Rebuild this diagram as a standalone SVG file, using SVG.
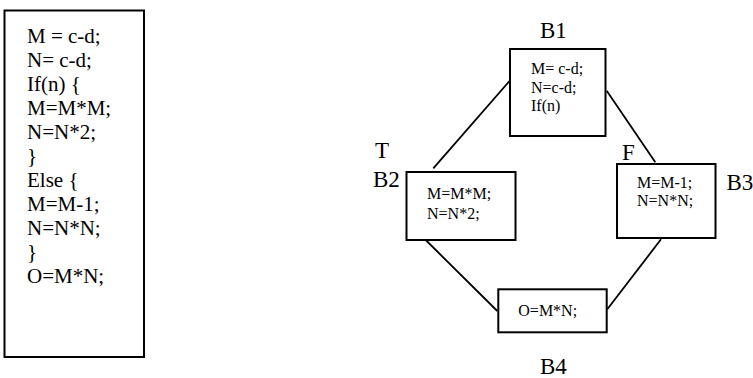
<svg xmlns="http://www.w3.org/2000/svg" width="753" height="378" viewBox="0 0 753 378" font-family="Liberation Serif, Times New Roman, Times, DejaVu Serif, serif">
<style>
.box{fill:#fff;stroke:#000;stroke-width:2}
.edge{stroke:#000;stroke-width:1.8;fill:none}
text{font-family:'Liberation Serif','Times New Roman',Times,'DejaVu Serif',serif;fill:#000}
.code{font-size:21px}
.small{font-size:16px}
.lbl{font-size:23px}
</style>
<rect width="753" height="378" fill="#fff"/>
<g id="source">
<rect class="box" x="4.5" y="10.5" width="139.5" height="346.5"/>
<text class="code" x="27" y="43">M = c-d;</text>
<text class="code" x="27" y="67">N= c-d;</text>
<text class="code" x="27" y="91">If(n) {</text>
<text class="code" x="27" y="115">M=M*M;</text>
<text class="code" x="27" y="139">N=N*2;</text>
<text class="code" x="27" y="163">}</text>
<text class="code" x="27" y="187">Else {</text>
<text class="code" x="27" y="211">M=M-1;</text>
<text class="code" x="27" y="235">N=N*N;</text>
<text class="code" x="27" y="259">}</text>
<text class="code" x="27" y="283">O=M*N;</text>
</g>
<g id="connectors">
<line class="edge" x1="509.5" y1="81" x2="433.3" y2="168.3"/>
<line class="edge" x1="606.7" y1="90.7" x2="655.3" y2="162.3"/>
<line class="edge" x1="425.7" y1="240" x2="497.3" y2="311"/>
<line class="edge" x1="661" y1="239.3" x2="607.3" y2="309.3"/>
</g>
<g id="B1">
<rect class="box" x="510" y="49" width="95.5" height="87"/>
<text class="lbl" x="540" y="38">B1</text>
<text class="small" x="531" y="74">M= c-d;</text>
<text class="small" x="531" y="92.5">N=c-d;</text>
<text class="small" x="531" y="111">If(n)</text>
</g>
<g id="B2">
<rect class="box" x="406.5" y="172" width="109" height="68"/>
<text class="lbl" x="375" y="158">T</text>
<text class="lbl" x="373" y="186.5">B2</text>
<text class="small" x="427" y="199">M=M*M;</text>
<text class="small" x="427" y="219">N=N*2;</text>
</g>
<g id="B3">
<rect class="box" x="617" y="164" width="98.5" height="74"/>
<text class="lbl" x="622" y="160">F</text>
<text class="lbl" x="726.5" y="190">B3</text>
<text class="small" x="637" y="187.5">M=M-1;</text>
<text class="small" x="637" y="206">N=N*N;</text>
</g>
<g id="B4">
<rect class="box" x="498.3" y="289.3" width="108.4" height="43"/>
<text class="small" x="518.3" y="316">O=M*N;</text>
<text class="lbl" x="540" y="374">B4</text>
</g>
</svg>
